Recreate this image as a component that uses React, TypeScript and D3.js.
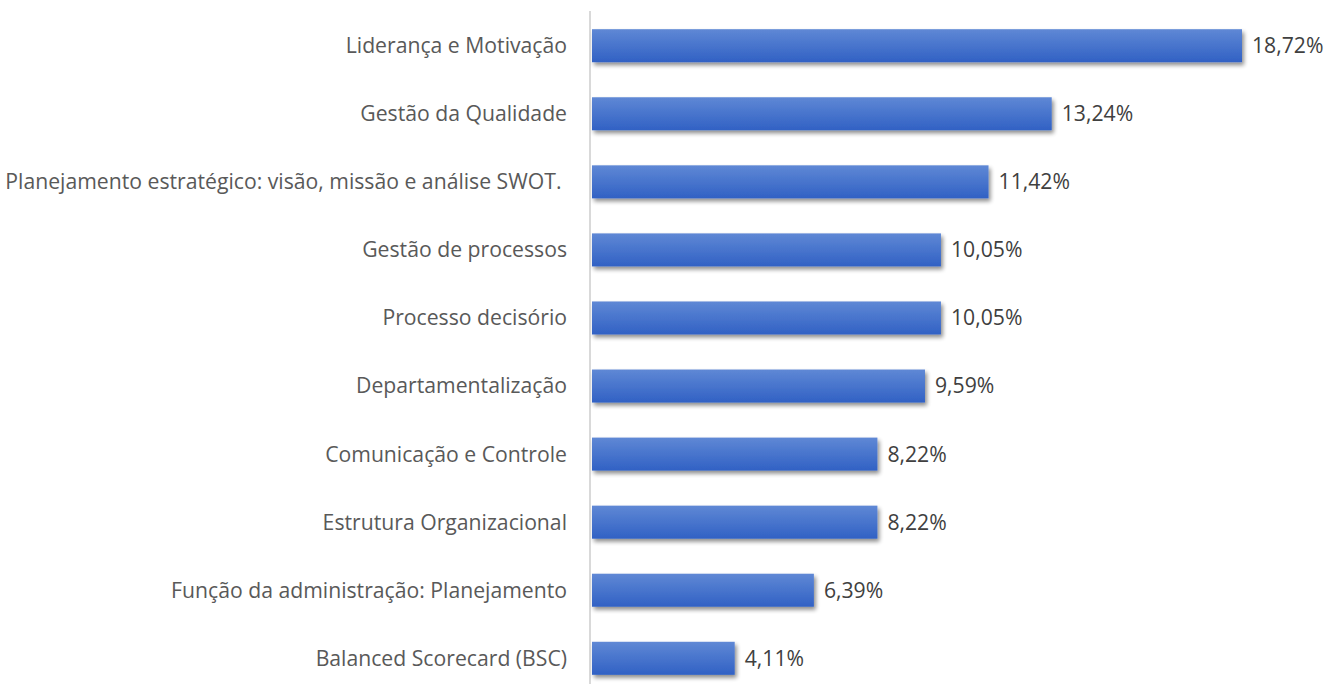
import React from "react";
import * as d3 from "d3";

const categories = [
  "Liderança e Motivação",
  "Gestão da Qualidade",
  "Planejamento estratégico: visão, missão e análise SWOT. ",
  "Gestão de processos",
  "Processo decisório",
  "Departamentalização",
  "Comunicação e Controle",
  "Estrutura Organizacional",
  "Função da administração: Planejamento",
  "Balanced Scorecard (BSC)",
];
const values = [18.72, 13.24, 11.42, 10.05, 10.05, 9.59, 8.22, 8.22, 6.39, 4.11];

export default function App() {
  const W = 1324, H = 684;
  const x0 = 592;
  const x = d3.scaleLinear().domain([0, 18.72]).range([x0, 1242]);
  const y = d3.scaleBand().domain(categories).range([11.5, 692.5]).paddingInner(0.515).paddingOuter(0.26);
  const fmt = (v: number) => v.toFixed(2).replace(".", ",") + "%";
  const font = "'Open Sans', sans-serif";
  return (
    <svg width={W} height={H} style={{ position: "absolute", left: 0, top: 0, background: "#fff" }}>
      <defs>
        <linearGradient id="bg" x1="0" y1="0" x2="0" y2="1">
          <stop offset="0" stopColor="#5f88d5" />
          <stop offset="1" stopColor="#3161c4" />
        </linearGradient>
        <filter id="sh" x="-5%" y="-20%" width="115%" height="160%">
          <feGaussianBlur in="SourceAlpha" stdDeviation="2" />
          <feOffset dx="1.5" dy="2.5" result="b" />
          <feComponentTransfer><feFuncA type="linear" slope="0.45" /></feComponentTransfer>
          <feMerge><feMergeNode /><feMergeNode in="SourceGraphic" /></feMerge>
        </filter>
      </defs>
      <line x1={590} x2={590} y1={11} y2={684} stroke="#d9d9d9" strokeWidth={2} />
      {categories.map((c, i) => {
        const yy = y(c)!;
        const bh = y.bandwidth();
        const cy = yy + bh / 2;
        return (
          <g key={c}>
            <rect x={x0} y={yy} width={x(values[i]) - x0} height={bh} fill="url(#bg)" filter="url(#sh)" />
            <text x={567} y={cy} dy="0.35em" textAnchor="end" fontFamily={font} fontSize={21.2} fill="#595959" style={{ whiteSpace: "pre" }}>{c}</text>
            <text x={x(values[i]) + 10} y={cy} dy="0.35em" fontFamily={font} fontSize={21.2} fill="#404040">{fmt(values[i])}</text>
          </g>
        );
      })}
    </svg>
  );
}
